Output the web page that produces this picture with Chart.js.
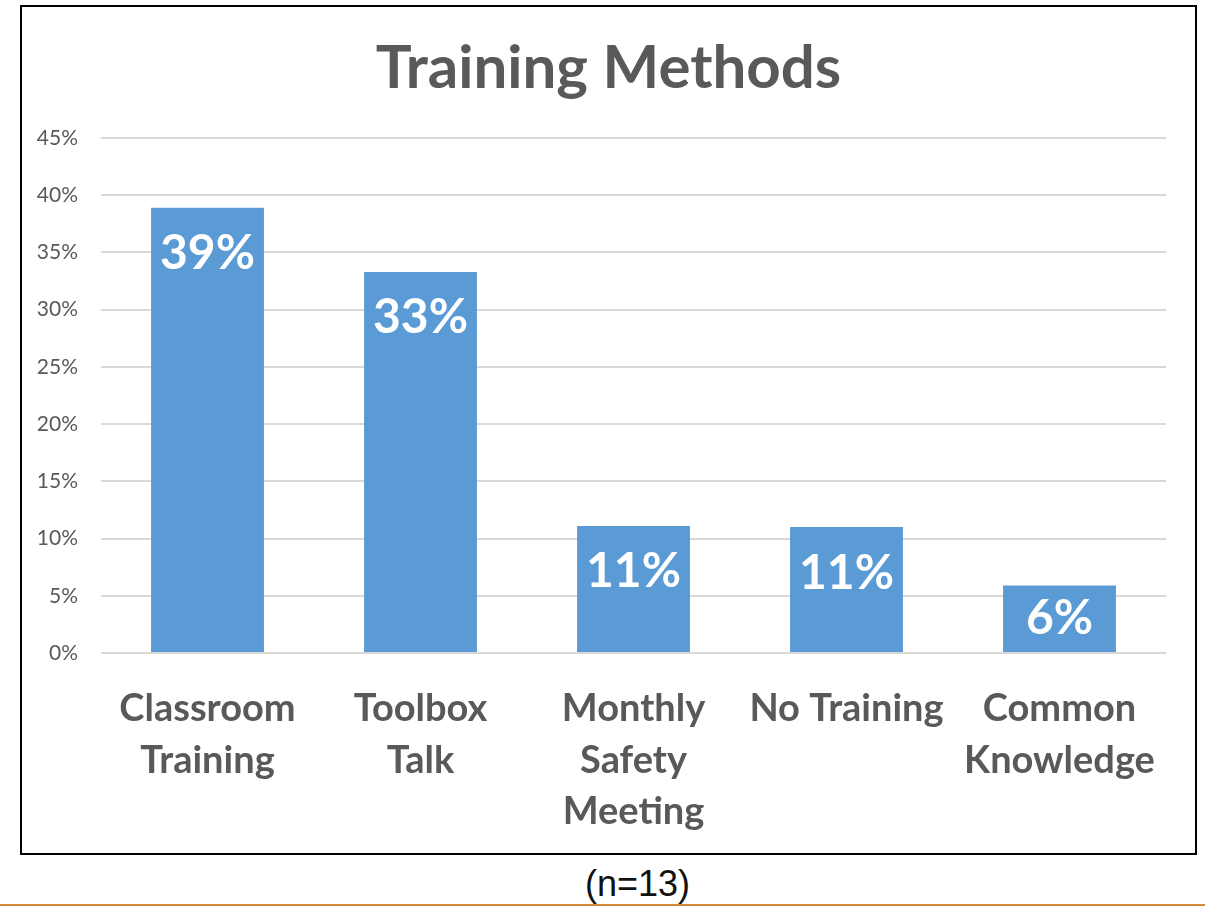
<!DOCTYPE html>
<html>
<head>
<meta charset="utf-8">
<title>Training Methods</title>
<script src="https://cdn.jsdelivr.net/npm/chart.js@4"></script>
<style>
  body { margin: 0; background: #fff; width: 1205px; height: 906px; position: relative; overflow: hidden; }
  #box { position: absolute; left: 20px; top: 5px; width: 1177px; height: 850px; border: 2px solid #000; box-sizing: border-box; }
  #box canvas { display: block; }
  #note { position: absolute; left: 0; width: 1275px; top: 863px; text-align: center; font-family: "Liberation Sans", Arial, sans-serif; font-size: 36px; color: #111; }
  #rule { position: absolute; left: 0; top: 904px; width: 1205px; height: 2px; background: #d08a3a; }
</style>
</head>
<body>
<div id="box"><canvas id="trainingChart" width="1173" height="846"></canvas></div>
<div id="note">(n=13)</div>
<div id="rule"></div>
<script>
const titulo = "Training Methods";
const categorias = [
  ["Classroom", "Training"],
  ["Toolbox", "Talk"],
  ["Monthly", "Safety", "Meeting"],
  ["No Training"],
  ["Common", "Knowledge"]
];
const percentuais = [38.9, 33.3, 11.1, 11.0, 5.9];
const ticksY = [0, 5, 10, 15, 20, 25, 30, 35, 40, 45];

document.addEventListener("DOMContentLoaded", () => {
  initChart();
});

// titulo centrado no canvas inteiro (o plugin de titulo centraria so na area com padding)
const tituloCentral = {
  id: "tituloCentral",
  afterDraw(chart) {
    const ctx = chart.ctx;
    ctx.save();
    ctx.fillStyle = "#595959";
    ctx.font = "bold 60px Lato";
    ctx.textAlign = "center";
    ctx.textBaseline = "alphabetic";
    ctx.fillText(titulo, chart.width / 2, 81);
    ctx.restore();
  }
};

// rotulos brancos dentro do topo das barras
const rotulosBarras = {
  id: "rotulosBarras",
  afterDatasetsDraw(chart) {
    const ctx = chart.ctx;
    const meta = chart.getDatasetMeta(0);
    ctx.save();
    ctx.fillStyle = "#ffffff";
    ctx.font = "bold 48px Lato";
    ctx.textAlign = "center";
    ctx.textBaseline = "middle";
    meta.data.forEach((bar, i) => {
      const topo = bar.y;
      const base = bar.base;
      const y = Math.min(topo + 46, (topo + base) / 2);
      ctx.fillText(Math.round(percentuais[i]) + "%", bar.x, y);
    });
    ctx.restore();
  }
};

function initChart() {
  const ctx = document.getElementById("trainingChart").getContext("2d");

  new Chart(ctx, {
    type: "bar",
    data: {
      labels: categorias,
      datasets: [{
        data: percentuais,
        backgroundColor: "#5b9bd5",
        barPercentage: 0.53,
        categoryPercentage: 1
      }]
    },
    options: {
      responsive: false,
      animation: false,
      layout: { padding: { left: 0, right: 29, top: 131, bottom: 0 } },
      plugins: {
        legend: { display: false },
        tooltip: { enabled: false },
        title: { display: false }
      },
      scales: {
        x: {
          grid: { display: false },
          border: { display: false },
          ticks: {
            color: "#595959",
            font: { family: "Lato", size: 38, weight: "bold", lineHeight: 1.36 },
            padding: 22,
            maxRotation: 0,
            autoSkip: false
          },
          afterFit(axis) { axis.height = 200; }
        },
        y: {
          min: 0,
          max: 45,
          afterBuildTicks(axis) { axis.ticks = ticksY.map((v) => ({ value: v })); },
          grid: { color: "#d9d9d9", lineWidth: 2, drawTicks: false },
          border: { display: false },
          ticks: {
            color: "#595959",
            font: { family: "Lato", size: 21 },
            padding: 23,
            callback: (v) => v + "%"
          },
          afterFit(axis) { axis.width = 79; }
        }
      }
    },
    plugins: [rotulosBarras, tituloCentral]
  });
}
</script>
</body>
</html>
